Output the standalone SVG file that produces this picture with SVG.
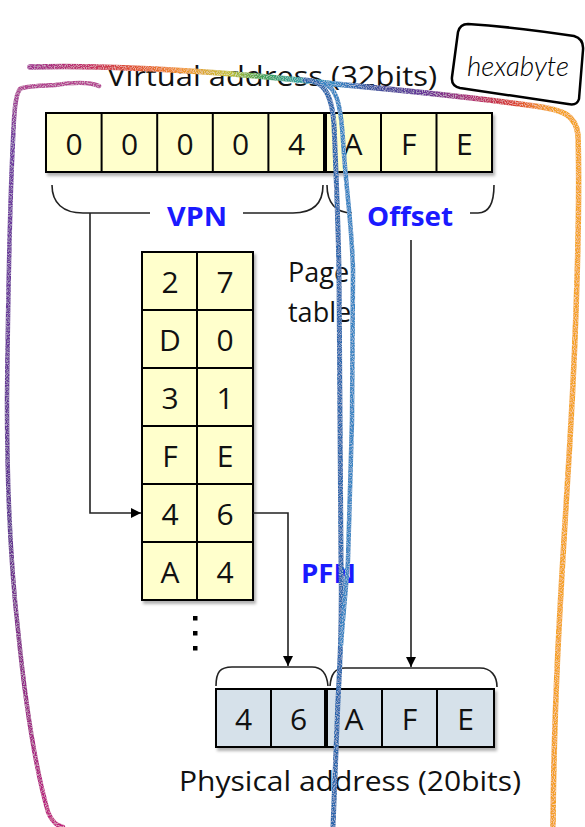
<svg xmlns="http://www.w3.org/2000/svg" width="585" height="827" viewBox="0 0 585 827">
<style>
.cellY{fill:#ffffcc;stroke:#000;stroke-width:2}
.cellB{fill:#d6e1ea;stroke:#000;stroke-width:2}
.div{stroke:#000;stroke-width:2}
.thick{stroke:#000;stroke-width:4}
.dg{font-family:"Open Sans","Liberation Sans",sans-serif;font-size:30px;fill:#111;text-anchor:middle}
.lbl{font-family:"Open Sans","Liberation Sans",sans-serif;font-size:27px;fill:#111}
.blue{font-family:"Open Sans","Liberation Sans",sans-serif;font-size:27px;font-weight:bold;fill:#1a1aff}
.brace{fill:none;stroke:#222;stroke-width:1.6}
.conn{fill:none;stroke:#222;stroke-width:1.6}
.ink{fill:none;stroke-linecap:round;stroke-linejoin:round}
</style>
<defs>
<filter id="sh" x="-10%" y="-10%" width="130%" height="130%">
<feDropShadow dx="2" dy="3" stdDeviation="1.5" flood-color="#000" flood-opacity="0.3"/>
</filter>
<filter id="speck" x="-5%" y="-5%" width="110%" height="110%">
<feTurbulence type="fractalNoise" baseFrequency="0.9" numOctaves="1" seed="3" result="n"/>
<feColorMatrix in="n" type="matrix" values="0 0 0 0 1 0 0 0 0 1 0 0 0 0 1 0 0 0 -3 1.7" result="w"/>
<feComposite in="w" in2="SourceAlpha" operator="in" result="ws"/>
<feComponentTransfer in="ws" result="ws2"><feFuncA type="linear" slope="0.45"/></feComponentTransfer>
<feMerge><feMergeNode in="SourceGraphic"/><feMergeNode in="ws2"/></feMerge>
</filter>
<marker id="arr" viewBox="0 0 10 10" refX="10" refY="5" markerWidth="10" markerHeight="10" markerUnits="userSpaceOnUse" orient="auto">
<path d="M0,0 L10,5 L0,10 Z" fill="#000"/>
</marker>
<linearGradient id="rainbow" gradientUnits="userSpaceOnUse" x1="20" y1="0" x2="585" y2="0">
<stop offset="0" stop-color="#9a2f95"/>
<stop offset="0.12" stop-color="#c42f6a"/>
<stop offset="0.2" stop-color="#e0502a"/>
<stop offset="0.29" stop-color="#f0962a"/>
<stop offset="0.37" stop-color="#c4c035"/>
<stop offset="0.43" stop-color="#3fa356"/>
<stop offset="0.5" stop-color="#2aa0a8"/>
<stop offset="0.56" stop-color="#2f86c4"/>
<stop offset="0.63" stop-color="#3f4f9c"/>
<stop offset="0.72" stop-color="#6a3096"/>
<stop offset="0.8" stop-color="#b22f78"/>
<stop offset="0.87" stop-color="#d83a32"/>
<stop offset="0.92" stop-color="#f0902a"/>
<stop offset="0.95" stop-color="#f4a325"/>
<stop offset="1" stop-color="#f4a325"/>
</linearGradient>
<linearGradient id="purp" gradientUnits="userSpaceOnUse" x1="0" y1="80" x2="0" y2="827">
<stop offset="0" stop-color="#b8448f"/>
<stop offset="0.08" stop-color="#6f3a9e"/>
<stop offset="0.6" stop-color="#5f3590"/>
<stop offset="1" stop-color="#c0207e"/>
</linearGradient>
</defs>

<rect width="585" height="827" fill="#fff"/>

<g id="virtual-address">
<g filter="url(#sh)">
<rect class="cellY" x="46" y="113" width="446" height="59"/>
</g>
<line class="div" x1="101.6" y1="113" x2="101.6" y2="172"/>
<line class="div" x1="157.2" y1="113" x2="157.2" y2="172"/>
<line class="div" x1="212.8" y1="113" x2="212.8" y2="172"/>
<line class="div" x1="268.4" y1="113" x2="268.4" y2="172"/>
<line class="thick" x1="325" y1="113" x2="325" y2="172"/>
<line class="div" x1="381" y1="113" x2="381" y2="172"/>
<line class="div" x1="436.5" y1="113" x2="436.5" y2="172"/>
<text class="dg" x="74" y="155">0</text>
<text class="dg" x="129.5" y="155">0</text>
<text class="dg" x="185" y="155">0</text>
<text class="dg" x="240.6" y="155">0</text>
<text class="dg" x="296.5" y="155">4</text>
<text class="dg" x="353" y="155">A</text>
<text class="dg" x="408.7" y="155">F</text>
<text class="dg" x="464.3" y="155">E</text>
<text class="lbl" x="107" y="86" textLength="330" lengthAdjust="spacingAndGlyphs">Virtual address (32bits)</text>
</g>

<g id="vpn-brace">
<path class="brace" d="M52,185 C52,203 63,213 83,213 L150,213 M243,213 L293,213 C313,213 323,203 323,185"/>
<text class="blue" x="167" y="226" textLength="60" lengthAdjust="spacingAndGlyphs">VPN</text>
</g>

<g id="offset-brace">
<path class="brace" d="M327,185 C327,203 336,213 352,213 M470,213 L478,213 C489,213 494,203 494,185"/>
<text class="blue" x="367" y="226" textLength="86" lengthAdjust="spacingAndGlyphs">Offset</text>
</g>

<g id="page-table">
<g filter="url(#sh)">
<rect class="cellY" x="142" y="252" width="111" height="348"/>
</g>
<line class="div" x1="197" y1="252" x2="197" y2="600"/>
<line class="div" x1="142" y1="310" x2="253" y2="310"/>
<line class="div" x1="142" y1="368" x2="253" y2="368"/>
<line class="div" x1="142" y1="426" x2="253" y2="426"/>
<line class="div" x1="142" y1="484" x2="253" y2="484"/>
<line class="div" x1="142" y1="542" x2="253" y2="542"/>
<text class="dg" x="170" y="293">2</text><text class="dg" x="225" y="293">7</text>
<text class="dg" x="170" y="351">D</text><text class="dg" x="225" y="351">0</text>
<text class="dg" x="170" y="409">3</text><text class="dg" x="225" y="409">1</text>
<text class="dg" x="170" y="467">F</text><text class="dg" x="225" y="467">E</text>
<text class="dg" x="170" y="525">4</text><text class="dg" x="225" y="525">6</text>
<text class="dg" x="170" y="583">A</text><text class="dg" x="225" y="583">4</text>
<text class="lbl" x="288" y="282">Page</text>
<text class="lbl" x="288" y="322">table</text>
<rect x="193" y="616" width="4.5" height="4.5" fill="#000"/>
<rect x="193" y="631" width="4.5" height="4.5" fill="#000"/>
<rect x="193" y="646" width="4.5" height="4.5" fill="#000"/>
</g>

<g id="pfn-label">
<text class="blue" x="301" y="583" textLength="55" lengthAdjust="spacingAndGlyphs">PFN</text>
</g>

<g id="physical-address">
<g filter="url(#sh)">
<rect class="cellB" x="216" y="689" width="278" height="58"/>
</g>
<line class="div" x1="271" y1="689" x2="271" y2="747"/>
<line class="thick" x1="326" y1="689" x2="326" y2="747"/>
<line class="div" x1="382" y1="689" x2="382" y2="747"/>
<line class="div" x1="437" y1="689" x2="437" y2="747"/>
<text class="dg" x="243.5" y="730">4</text>
<text class="dg" x="298.5" y="730">6</text>
<text class="dg" x="354" y="730">A</text>
<text class="dg" x="409.5" y="730">F</text>
<text class="dg" x="465.5" y="730">E</text>
<path class="brace" d="M216,686 C216,672 220,667 232,667 L312,667 C322,667 327,674 328,686"/>
<path class="brace" d="M330,686 C331,674 335,668 345,668 L480,668 C491,668 497,676 497,687"/>
<text class="lbl" x="179" y="791" font-size="28" textLength="342" lengthAdjust="spacingAndGlyphs">Physical address (20bits)</text>
</g>

<g id="connectors">
<path class="conn" d="M90,213 L90,513 L141,513" marker-end="url(#arr)"/>
<path class="conn" d="M253,513 L288,513 L288,666" marker-end="url(#arr)"/>
<path class="conn" d="M411,240 L411,667" marker-end="url(#arr)"/>
</g>

<g id="hexabyte-note">
<path class="ink" stroke="#000" stroke-width="2.5" d="M468,24 Q515,27 574,36 Q584,39 583,50 L579,99 Q577,106 568,104 L460,88 Q451,86 452,77 L458,32 Q460,24 468,24 Z"/>
<text x="467" y="76" font-family="Lato,'Liberation Sans',sans-serif" font-style="italic" font-weight="300" font-size="27" fill="#000" textLength="102" lengthAdjust="spacingAndGlyphs">hexabyte</text>
</g>

<g id="ink-strokes" filter="url(#speck)">
<path class="ink" stroke="url(#rainbow)" stroke-width="5.5" d="M30,67 C90,65 150,68 220,73 C270,77 300,80 335,84 C400,90 470,97 535,106 C565,110 576,116 578,135 C580,200 577,320 570,440 C563,560 554,680 553,827"/>
<path class="ink" stroke="url(#purp)" stroke-width="4.5" d="M99,86 C90,82 75,82 55,85 C40,86 25,86 20,89 C15,95 14,115 13,140 C10,200 8,300 7,400 C7,480 10,560 18,630 C25,700 36,770 48,812 C52,822 58,826 63,827"/>
<path class="ink" stroke="#2a66ac" stroke-width="5" d="M305,80 C322,80 332,92 334,125 C336,170 338,220 339,270 L340,420 L341,560 C342,610 341,650 338,700 C336,760 334,800 333,827"/>
<path class="ink" stroke="#3784c2" stroke-width="4.5" d="M322,83 C338,86 341,110 343,140 C346,190 352,225 353,270 L352,420 L348,560 C346,590 343,615 341,645"/>
</g>
</svg>
